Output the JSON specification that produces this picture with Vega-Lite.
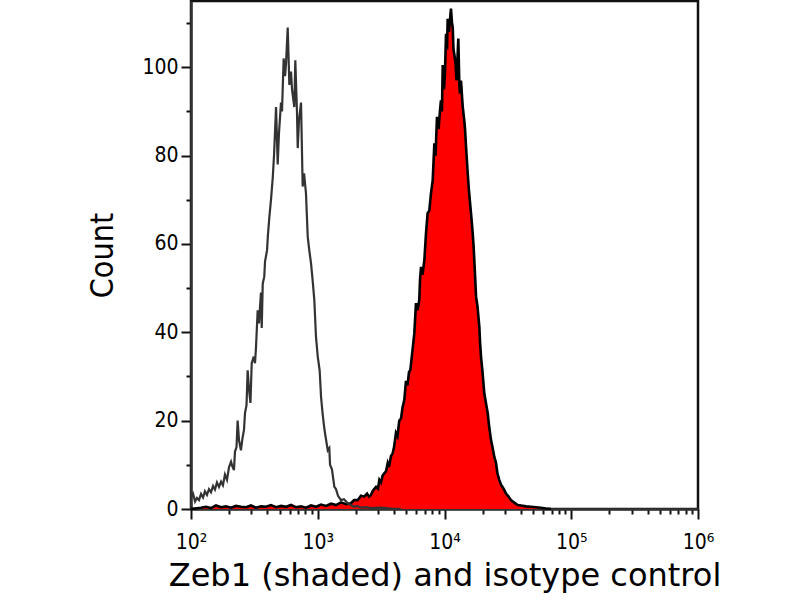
{
  "$schema": "https://vega.github.io/schema/vega-lite/v6.json",
  "description": "Flow cytometry histogram: Zeb1 (shaded) and isotype control",
  "autosize": "none",
  "width": 507,
  "height": 508,
  "padding": {"left": 191, "top": 1, "right": 102, "bottom": 91},
  "background": "white",
  "config": {
    "view": {"stroke": "#111111", "strokeWidth": 2.5},
    "axis": {
      "grid": false,
      "domainColor": "#333333",
      "domainWidth": 2.5,
      "tickColor": "#111111",
      "tickWidth": 2,
      "labelColor": "#000000",
      "titleColor": "#000000",
      "labelFont": "DejaVu Sans Condensed",
      "titleFont": "DejaVu Sans",
      "titleFontWeight": "normal",
      "labelOverlap": false,
      "labelFlush": false
    }
  },
  "datasets": {
    "zeb1": [
      {"log_intensity": 2.000, "count": 0},
      {"log_intensity": 2.079, "count": 0.3},
      {"log_intensity": 2.118, "count": 0.5},
      {"log_intensity": 2.158, "count": 0.2},
      {"log_intensity": 2.197, "count": 0.8},
      {"log_intensity": 2.237, "count": 0.4},
      {"log_intensity": 2.276, "count": 0.6},
      {"log_intensity": 2.316, "count": 0.3},
      {"log_intensity": 2.355, "count": 0.7},
      {"log_intensity": 2.394, "count": 0.5},
      {"log_intensity": 2.434, "count": 0.4},
      {"log_intensity": 2.473, "count": 0.8},
      {"log_intensity": 2.513, "count": 0.3},
      {"log_intensity": 2.552, "count": 0.6},
      {"log_intensity": 2.592, "count": 0.5},
      {"log_intensity": 2.631, "count": 0.9},
      {"log_intensity": 2.671, "count": 0.4},
      {"log_intensity": 2.710, "count": 0.7},
      {"log_intensity": 2.750, "count": 0.5},
      {"log_intensity": 2.789, "count": 0.9},
      {"log_intensity": 2.828, "count": 0.4},
      {"log_intensity": 2.868, "count": 0.6},
      {"log_intensity": 2.907, "count": 0.3},
      {"log_intensity": 2.947, "count": 0.8},
      {"log_intensity": 2.986, "count": 0.5},
      {"log_intensity": 3.026, "count": 1.0},
      {"log_intensity": 3.065, "count": 0.7},
      {"log_intensity": 3.105, "count": 1.2},
      {"log_intensity": 3.144, "count": 0.9},
      {"log_intensity": 3.183, "count": 1.5},
      {"log_intensity": 3.223, "count": 1.1},
      {"log_intensity": 3.262, "count": 1.3},
      {"log_intensity": 3.286, "count": 2.0},
      {"log_intensity": 3.315, "count": 2.0},
      {"log_intensity": 3.341, "count": 3.0},
      {"log_intensity": 3.367, "count": 2.8},
      {"log_intensity": 3.389, "count": 3.5},
      {"log_intensity": 3.404, "count": 2.8},
      {"log_intensity": 3.420, "count": 3.2},
      {"log_intensity": 3.436, "count": 4.2},
      {"log_intensity": 3.460, "count": 5.0},
      {"log_intensity": 3.475, "count": 4.6},
      {"log_intensity": 3.486, "count": 6.6},
      {"log_intensity": 3.499, "count": 6.0},
      {"log_intensity": 3.511, "count": 7.5},
      {"log_intensity": 3.525, "count": 8.1},
      {"log_intensity": 3.538, "count": 8.5},
      {"log_intensity": 3.552, "count": 10.4},
      {"log_intensity": 3.562, "count": 9.5},
      {"log_intensity": 3.578, "count": 12.0},
      {"log_intensity": 3.591, "count": 12.6},
      {"log_intensity": 3.602, "count": 14.0},
      {"log_intensity": 3.617, "count": 17.2},
      {"log_intensity": 3.629, "count": 16.5},
      {"log_intensity": 3.643, "count": 20.0},
      {"log_intensity": 3.657, "count": 20.5},
      {"log_intensity": 3.669, "count": 23.0},
      {"log_intensity": 3.683, "count": 24.7},
      {"log_intensity": 3.696, "count": 29.0},
      {"log_intensity": 3.708, "count": 28.0},
      {"log_intensity": 3.720, "count": 31.0},
      {"log_intensity": 3.730, "count": 31.4},
      {"log_intensity": 3.744, "count": 35.0},
      {"log_intensity": 3.762, "count": 39.8},
      {"log_intensity": 3.775, "count": 46.6},
      {"log_intensity": 3.787, "count": 45.0},
      {"log_intensity": 3.801, "count": 47.3},
      {"log_intensity": 3.807, "count": 52.0},
      {"log_intensity": 3.815, "count": 54.8},
      {"log_intensity": 3.826, "count": 53.0},
      {"log_intensity": 3.841, "count": 56.3},
      {"log_intensity": 3.854, "count": 62.4},
      {"log_intensity": 3.867, "count": 67.0},
      {"log_intensity": 3.880, "count": 67.5},
      {"log_intensity": 3.893, "count": 71.4},
      {"log_intensity": 3.907, "count": 74.4},
      {"log_intensity": 3.920, "count": 82.8},
      {"log_intensity": 3.929, "count": 80.0},
      {"log_intensity": 3.941, "count": 88.8},
      {"log_intensity": 3.953, "count": 86.0},
      {"log_intensity": 3.964, "count": 90.0},
      {"log_intensity": 3.972, "count": 92.5},
      {"log_intensity": 3.980, "count": 90.0},
      {"log_intensity": 3.986, "count": 100.5},
      {"log_intensity": 3.996, "count": 95.0},
      {"log_intensity": 4.004, "count": 99.0},
      {"log_intensity": 4.012, "count": 107.6},
      {"log_intensity": 4.020, "count": 104.0},
      {"log_intensity": 4.025, "count": 111.0},
      {"log_intensity": 4.035, "count": 108.0},
      {"log_intensity": 4.051, "count": 113.3},
      {"log_intensity": 4.059, "count": 110.0},
      {"log_intensity": 4.065, "count": 109.0},
      {"log_intensity": 4.071, "count": 104.0},
      {"log_intensity": 4.077, "count": 103.0},
      {"log_intensity": 4.087, "count": 101.0},
      {"log_intensity": 4.095, "count": 97.0},
      {"log_intensity": 4.109, "count": 106.5},
      {"log_intensity": 4.117, "count": 96.0},
      {"log_intensity": 4.122, "count": 94.0},
      {"log_intensity": 4.130, "count": 97.0},
      {"log_intensity": 4.144, "count": 91.0},
      {"log_intensity": 4.156, "count": 88.0},
      {"log_intensity": 4.162, "count": 86.0},
      {"log_intensity": 4.170, "count": 82.0},
      {"log_intensity": 4.183, "count": 76.0},
      {"log_intensity": 4.193, "count": 72.0},
      {"log_intensity": 4.209, "count": 67.0},
      {"log_intensity": 4.221, "count": 63.0},
      {"log_intensity": 4.230, "count": 59.3},
      {"log_intensity": 4.241, "count": 53.0},
      {"log_intensity": 4.249, "count": 48.0},
      {"log_intensity": 4.260, "count": 46.0},
      {"log_intensity": 4.275, "count": 41.2},
      {"log_intensity": 4.280, "count": 38.0},
      {"log_intensity": 4.288, "count": 34.5},
      {"log_intensity": 4.300, "count": 31.0},
      {"log_intensity": 4.314, "count": 26.2},
      {"log_intensity": 4.327, "count": 24.0},
      {"log_intensity": 4.341, "count": 21.7},
      {"log_intensity": 4.351, "count": 19.0},
      {"log_intensity": 4.367, "count": 15.6},
      {"log_intensity": 4.379, "count": 14.0},
      {"log_intensity": 4.393, "count": 11.8},
      {"log_intensity": 4.406, "count": 10.5},
      {"log_intensity": 4.418, "count": 8.0},
      {"log_intensity": 4.432, "count": 6.6},
      {"log_intensity": 4.446, "count": 5.5},
      {"log_intensity": 4.458, "count": 5.0},
      {"log_intensity": 4.472, "count": 4.3},
      {"log_intensity": 4.485, "count": 3.5},
      {"log_intensity": 4.501, "count": 3.0},
      {"log_intensity": 4.525, "count": 2.0},
      {"log_intensity": 4.548, "count": 1.5},
      {"log_intensity": 4.578, "count": 0.9},
      {"log_intensity": 4.604, "count": 0.8},
      {"log_intensity": 4.643, "count": 0.6},
      {"log_intensity": 4.682, "count": 0.5},
      {"log_intensity": 4.722, "count": 0.4},
      {"log_intensity": 4.761, "count": 0.3},
      {"log_intensity": 4.801, "count": 0.1},
      {"log_intensity": 4.840, "count": 0}
    ],
    "isotype": [
      {"log_intensity": 2.000, "count": 2.7},
      {"log_intensity": 2.016, "count": 3.5},
      {"log_intensity": 2.032, "count": 1.7},
      {"log_intensity": 2.047, "count": 2.5},
      {"log_intensity": 2.063, "count": 2.0},
      {"log_intensity": 2.079, "count": 3.4},
      {"log_intensity": 2.095, "count": 2.6},
      {"log_intensity": 2.110, "count": 4.0},
      {"log_intensity": 2.126, "count": 3.2},
      {"log_intensity": 2.142, "count": 4.5},
      {"log_intensity": 2.158, "count": 3.8},
      {"log_intensity": 2.174, "count": 5.2},
      {"log_intensity": 2.189, "count": 4.4},
      {"log_intensity": 2.205, "count": 6.0},
      {"log_intensity": 2.221, "count": 5.0},
      {"log_intensity": 2.237, "count": 6.2},
      {"log_intensity": 2.252, "count": 5.4},
      {"log_intensity": 2.268, "count": 7.8},
      {"log_intensity": 2.284, "count": 6.6},
      {"log_intensity": 2.300, "count": 9.5},
      {"log_intensity": 2.316, "count": 10.7},
      {"log_intensity": 2.327, "count": 9.6},
      {"log_intensity": 2.339, "count": 8.8},
      {"log_intensity": 2.347, "count": 13.0},
      {"log_intensity": 2.359, "count": 14.0},
      {"log_intensity": 2.368, "count": 20.0},
      {"log_intensity": 2.379, "count": 15.5},
      {"log_intensity": 2.394, "count": 13.3},
      {"log_intensity": 2.406, "count": 16.0},
      {"log_intensity": 2.418, "count": 17.9},
      {"log_intensity": 2.426, "count": 21.7},
      {"log_intensity": 2.438, "count": 23.5},
      {"log_intensity": 2.447, "count": 31.4},
      {"log_intensity": 2.458, "count": 27.0},
      {"log_intensity": 2.469, "count": 24.0},
      {"log_intensity": 2.479, "count": 33.0},
      {"log_intensity": 2.495, "count": 34.5},
      {"log_intensity": 2.505, "count": 33.0},
      {"log_intensity": 2.513, "count": 36.7},
      {"log_intensity": 2.526, "count": 45.0},
      {"log_intensity": 2.536, "count": 42.0},
      {"log_intensity": 2.552, "count": 49.0},
      {"log_intensity": 2.558, "count": 41.0},
      {"log_intensity": 2.566, "count": 51.0},
      {"log_intensity": 2.578, "count": 52.6},
      {"log_intensity": 2.584, "count": 56.0},
      {"log_intensity": 2.600, "count": 58.6},
      {"log_intensity": 2.607, "count": 62.0},
      {"log_intensity": 2.618, "count": 66.0},
      {"log_intensity": 2.631, "count": 70.0},
      {"log_intensity": 2.645, "count": 75.0},
      {"log_intensity": 2.655, "count": 80.0},
      {"log_intensity": 2.671, "count": 91.0},
      {"log_intensity": 2.684, "count": 78.0},
      {"log_intensity": 2.694, "count": 85.0},
      {"log_intensity": 2.710, "count": 92.0},
      {"log_intensity": 2.718, "count": 90.0},
      {"log_intensity": 2.731, "count": 102.0},
      {"log_intensity": 2.742, "count": 98.0},
      {"log_intensity": 2.750, "count": 101.0},
      {"log_intensity": 2.763, "count": 109.0},
      {"log_intensity": 2.776, "count": 96.0},
      {"log_intensity": 2.789, "count": 99.0},
      {"log_intensity": 2.797, "count": 95.0},
      {"log_intensity": 2.815, "count": 91.0},
      {"log_intensity": 2.823, "count": 101.6},
      {"log_intensity": 2.836, "count": 90.0},
      {"log_intensity": 2.842, "count": 81.7},
      {"log_intensity": 2.852, "count": 88.0},
      {"log_intensity": 2.868, "count": 92.0},
      {"log_intensity": 2.881, "count": 73.0},
      {"log_intensity": 2.892, "count": 76.0},
      {"log_intensity": 2.907, "count": 71.5},
      {"log_intensity": 2.921, "count": 61.6},
      {"log_intensity": 2.933, "count": 58.6},
      {"log_intensity": 2.947, "count": 55.6},
      {"log_intensity": 2.959, "count": 52.0},
      {"log_intensity": 2.973, "count": 47.3},
      {"log_intensity": 2.986, "count": 39.0},
      {"log_intensity": 3.000, "count": 34.5},
      {"log_intensity": 3.015, "count": 31.4},
      {"log_intensity": 3.026, "count": 25.4},
      {"log_intensity": 3.037, "count": 22.0},
      {"log_intensity": 3.047, "count": 19.4},
      {"log_intensity": 3.057, "count": 17.2},
      {"log_intensity": 3.079, "count": 13.3},
      {"log_intensity": 3.091, "count": 13.8},
      {"log_intensity": 3.097, "count": 10.0},
      {"log_intensity": 3.112, "count": 9.0},
      {"log_intensity": 3.131, "count": 5.0},
      {"log_intensity": 3.144, "count": 4.5},
      {"log_intensity": 3.160, "count": 3.0},
      {"log_intensity": 3.183, "count": 2.0},
      {"log_intensity": 3.207, "count": 2.2},
      {"log_intensity": 3.236, "count": 1.3},
      {"log_intensity": 3.262, "count": 0.9},
      {"log_intensity": 3.286, "count": 0.5},
      {"log_intensity": 3.310, "count": 0.7},
      {"log_intensity": 3.341, "count": 0.3},
      {"log_intensity": 3.381, "count": 0.4},
      {"log_intensity": 3.420, "count": 0.2},
      {"log_intensity": 3.499, "count": 0.3},
      {"log_intensity": 3.578, "count": 0.1},
      {"log_intensity": 3.657, "count": 0}
    ]
  },
  "encoding": {
    "x": {
      "field": "log_intensity",
      "type": "quantitative",
      "scale": {"domain": [2, 6], "nice": false, "zero": false},
      "axis": {
        "title": "Zeb1 (shaded) and isotype control",
        "titleFontSize": 32,
        "titlePadding": 8,
        "values": [2, 2.301, 2.477, 2.602, 2.699, 2.778, 2.845, 2.903, 2.954,
                   3, 3.301, 3.477, 3.602, 3.699, 3.778, 3.845, 3.903, 3.954,
                   4, 4.301, 4.477, 4.602, 4.699, 4.778, 4.845, 4.903, 4.954,
                   5, 5.301, 5.477, 5.602, 5.699, 5.778, 5.845, 5.903, 5.954, 6],
        "labelExpr": "datum.value % 1 === 0 ? '10' + ['⁰','¹','²','³','⁴','⁵','⁶'][datum.value] : ''",
        "labelFontSize": 21,
        "labelPadding": 12,
        "tickSize": {"condition": {"test": "datum.value % 1 === 0", "value": 10}, "value": 5}
      }
    },
    "y": {
      "field": "count",
      "type": "quantitative",
      "scale": {"domain": [0, 115], "nice": false},
      "axis": {
        "title": "Count",
        "titleFont": "DejaVu Sans Condensed",
        "titleFontSize": 32,
        "titlePadding": 22,
        "values": [0, 10, 20, 30, 40, 50, 60, 70, 80, 90, 100, 110],
        "labelExpr": "datum.value % 20 === 0 ? datum.label : ''",
        "labelFontSize": 21,
        "labelPadding": 3,
        "tickSize": {"condition": {"test": "datum.value % 20 === 0", "value": 10}, "value": 5}
      }
    }
  },
  "layer": [
    {
      "data": {"name": "zeb1"},
      "mark": {"type": "area", "color": "#ff0000", "opacity": 1}
    },
    {
      "data": {"name": "zeb1"},
      "mark": {"type": "line", "color": "#000000", "strokeWidth": 2.6}
    },
    {
      "data": {"name": "isotype"},
      "mark": {"type": "line", "color": "#333333", "strokeWidth": 2.2}
    }
  ]
}
